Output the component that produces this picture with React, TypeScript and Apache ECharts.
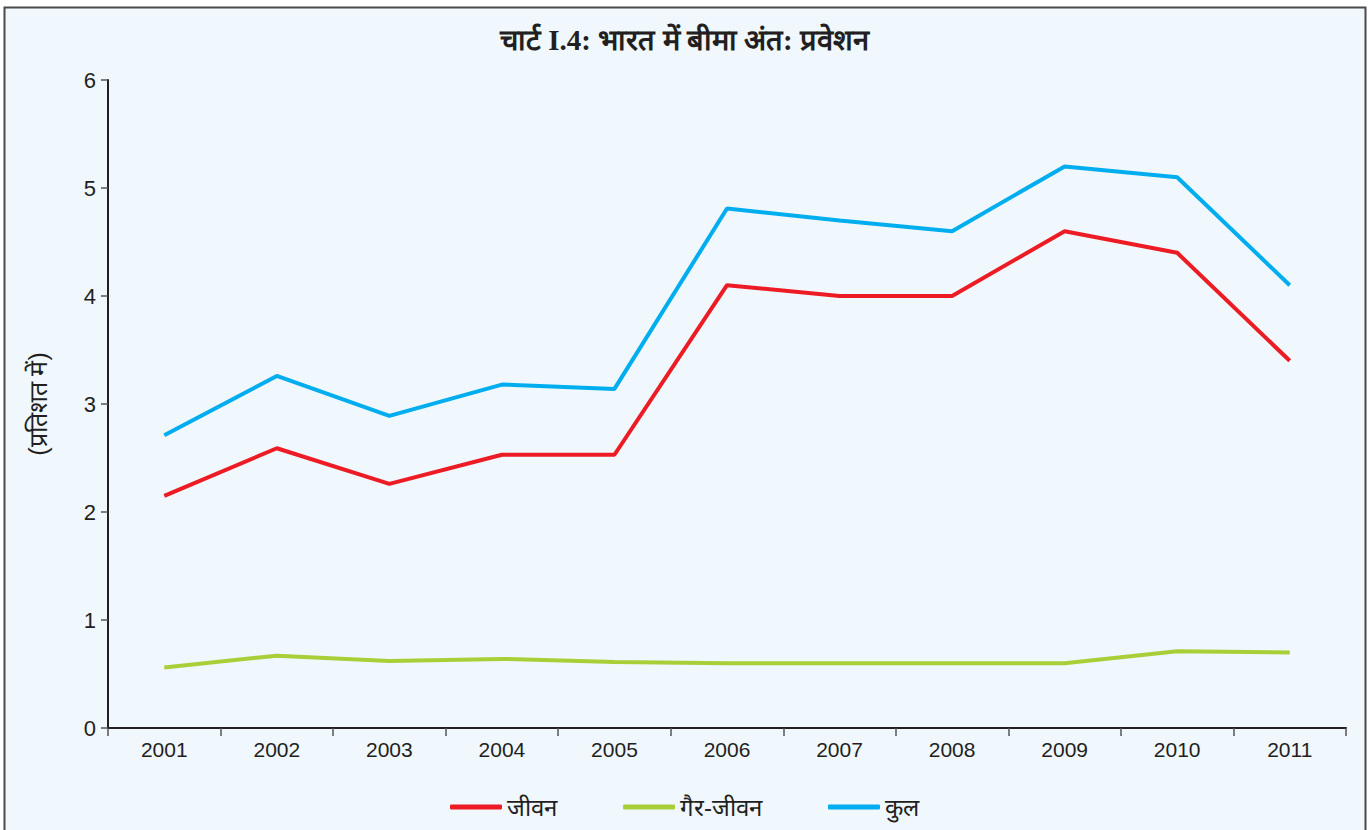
import React, { useEffect, useRef } from "react";
import * as echarts from "echarts";

const years = ["2001", "2002", "2003", "2004", "2005", "2006", "2007", "2008", "2009", "2010", "2011"];
const life = [2.15, 2.59, 2.26, 2.53, 2.53, 4.1, 4.0, 4.0, 4.6, 4.4, 3.4];
const nonLife = [0.56, 0.67, 0.62, 0.64, 0.61, 0.6, 0.6, 0.6, 0.6, 0.71, 0.7];
const total = [2.71, 3.26, 2.89, 3.18, 3.14, 4.81, 4.7, 4.6, 5.2, 5.1, 4.1];
const seriesNames = ["जीवन", "गैर-जीवन", "कुल"];
const title = "चार्ट I.4: भारत में बीमा अंत: प्रवेशन";
const yAxisName = "(प्रतिशत में)";

export default function App() {
  const ref = useRef<HTMLDivElement>(null);
  useEffect(() => {
    const chart = echarts.init(ref.current!, null, { renderer: "svg" });
    const textColor = "#231f20";
    const mk = (name: string, data: number[], color: string) => ({
      name,
      type: "line",
      data,
      symbol: "none",
      lineStyle: { color, width: 4 },
      itemStyle: { color },
    });
    chart.setOption({
      animation: false,
      backgroundColor: "#ffffff",
      graphic: [
        {
          type: "rect",
          z: -10,
          silent: true,
          shape: { x: 4.5, y: 7.5, width: 1361, height: 840 },
          style: { fill: "#f0f7fd", stroke: "#4a4a4a", lineWidth: 2 },
        },
      ],
      title: {
        text: title,
        left: "center",
        top: 20,
        textStyle: { fontFamily: "serif", fontWeight: "bold", fontSize: 29, color: textColor },
      },
      legend: {
        bottom: 6,
        left: "center",
        itemWidth: 52,
        itemHeight: 5,
        itemGap: 66,
        icon: "roundRect",
        textStyle: { fontSize: 24, color: textColor, fontFamily: "sans-serif" },
        data: seriesNames,
      },
      grid: { left: 108, right: 23, top: 80, bottom: 102, containLabel: false },
      xAxis: {
        type: "category",
        data: years,
        boundaryGap: true,
        axisLine: { lineStyle: { color: "#231f20", width: 2 } },
        axisTick: { show: true, length: 8, lineStyle: { color: "#555", width: 1.5 } },
        axisLabel: { fontSize: 21, color: textColor, margin: 11, fontFamily: "Liberation Sans" },
      },
      yAxis: {
        type: "value",
        min: 0,
        max: 6,
        interval: 1,
        name: yAxisName,
        nameLocation: "middle",
        nameGap: 58,
        nameRotate: 90,
        nameTextStyle: { fontSize: 25, color: textColor },
        splitLine: { show: false },
        axisLine: { show: true, lineStyle: { color: "#231f20", width: 2 } },
        axisTick: { show: true, length: 7, lineStyle: { color: "#555", width: 1.5 } },
        axisLabel: { fontSize: 22, color: textColor, margin: 12, fontFamily: "Liberation Sans" },
      },
      series: [
        mk(seriesNames[0], life, "#ed1c24"),
        mk(seriesNames[1], nonLife, "#a8cf38"),
        mk(seriesNames[2], total, "#00aeef"),
      ],
    });
    return () => chart.dispose();
  }, []);
  return (
    <div
      ref={ref}
      style={{ position: "fixed", left: 0, top: 0, width: 1369, height: 830 }}
    />
  );
}
